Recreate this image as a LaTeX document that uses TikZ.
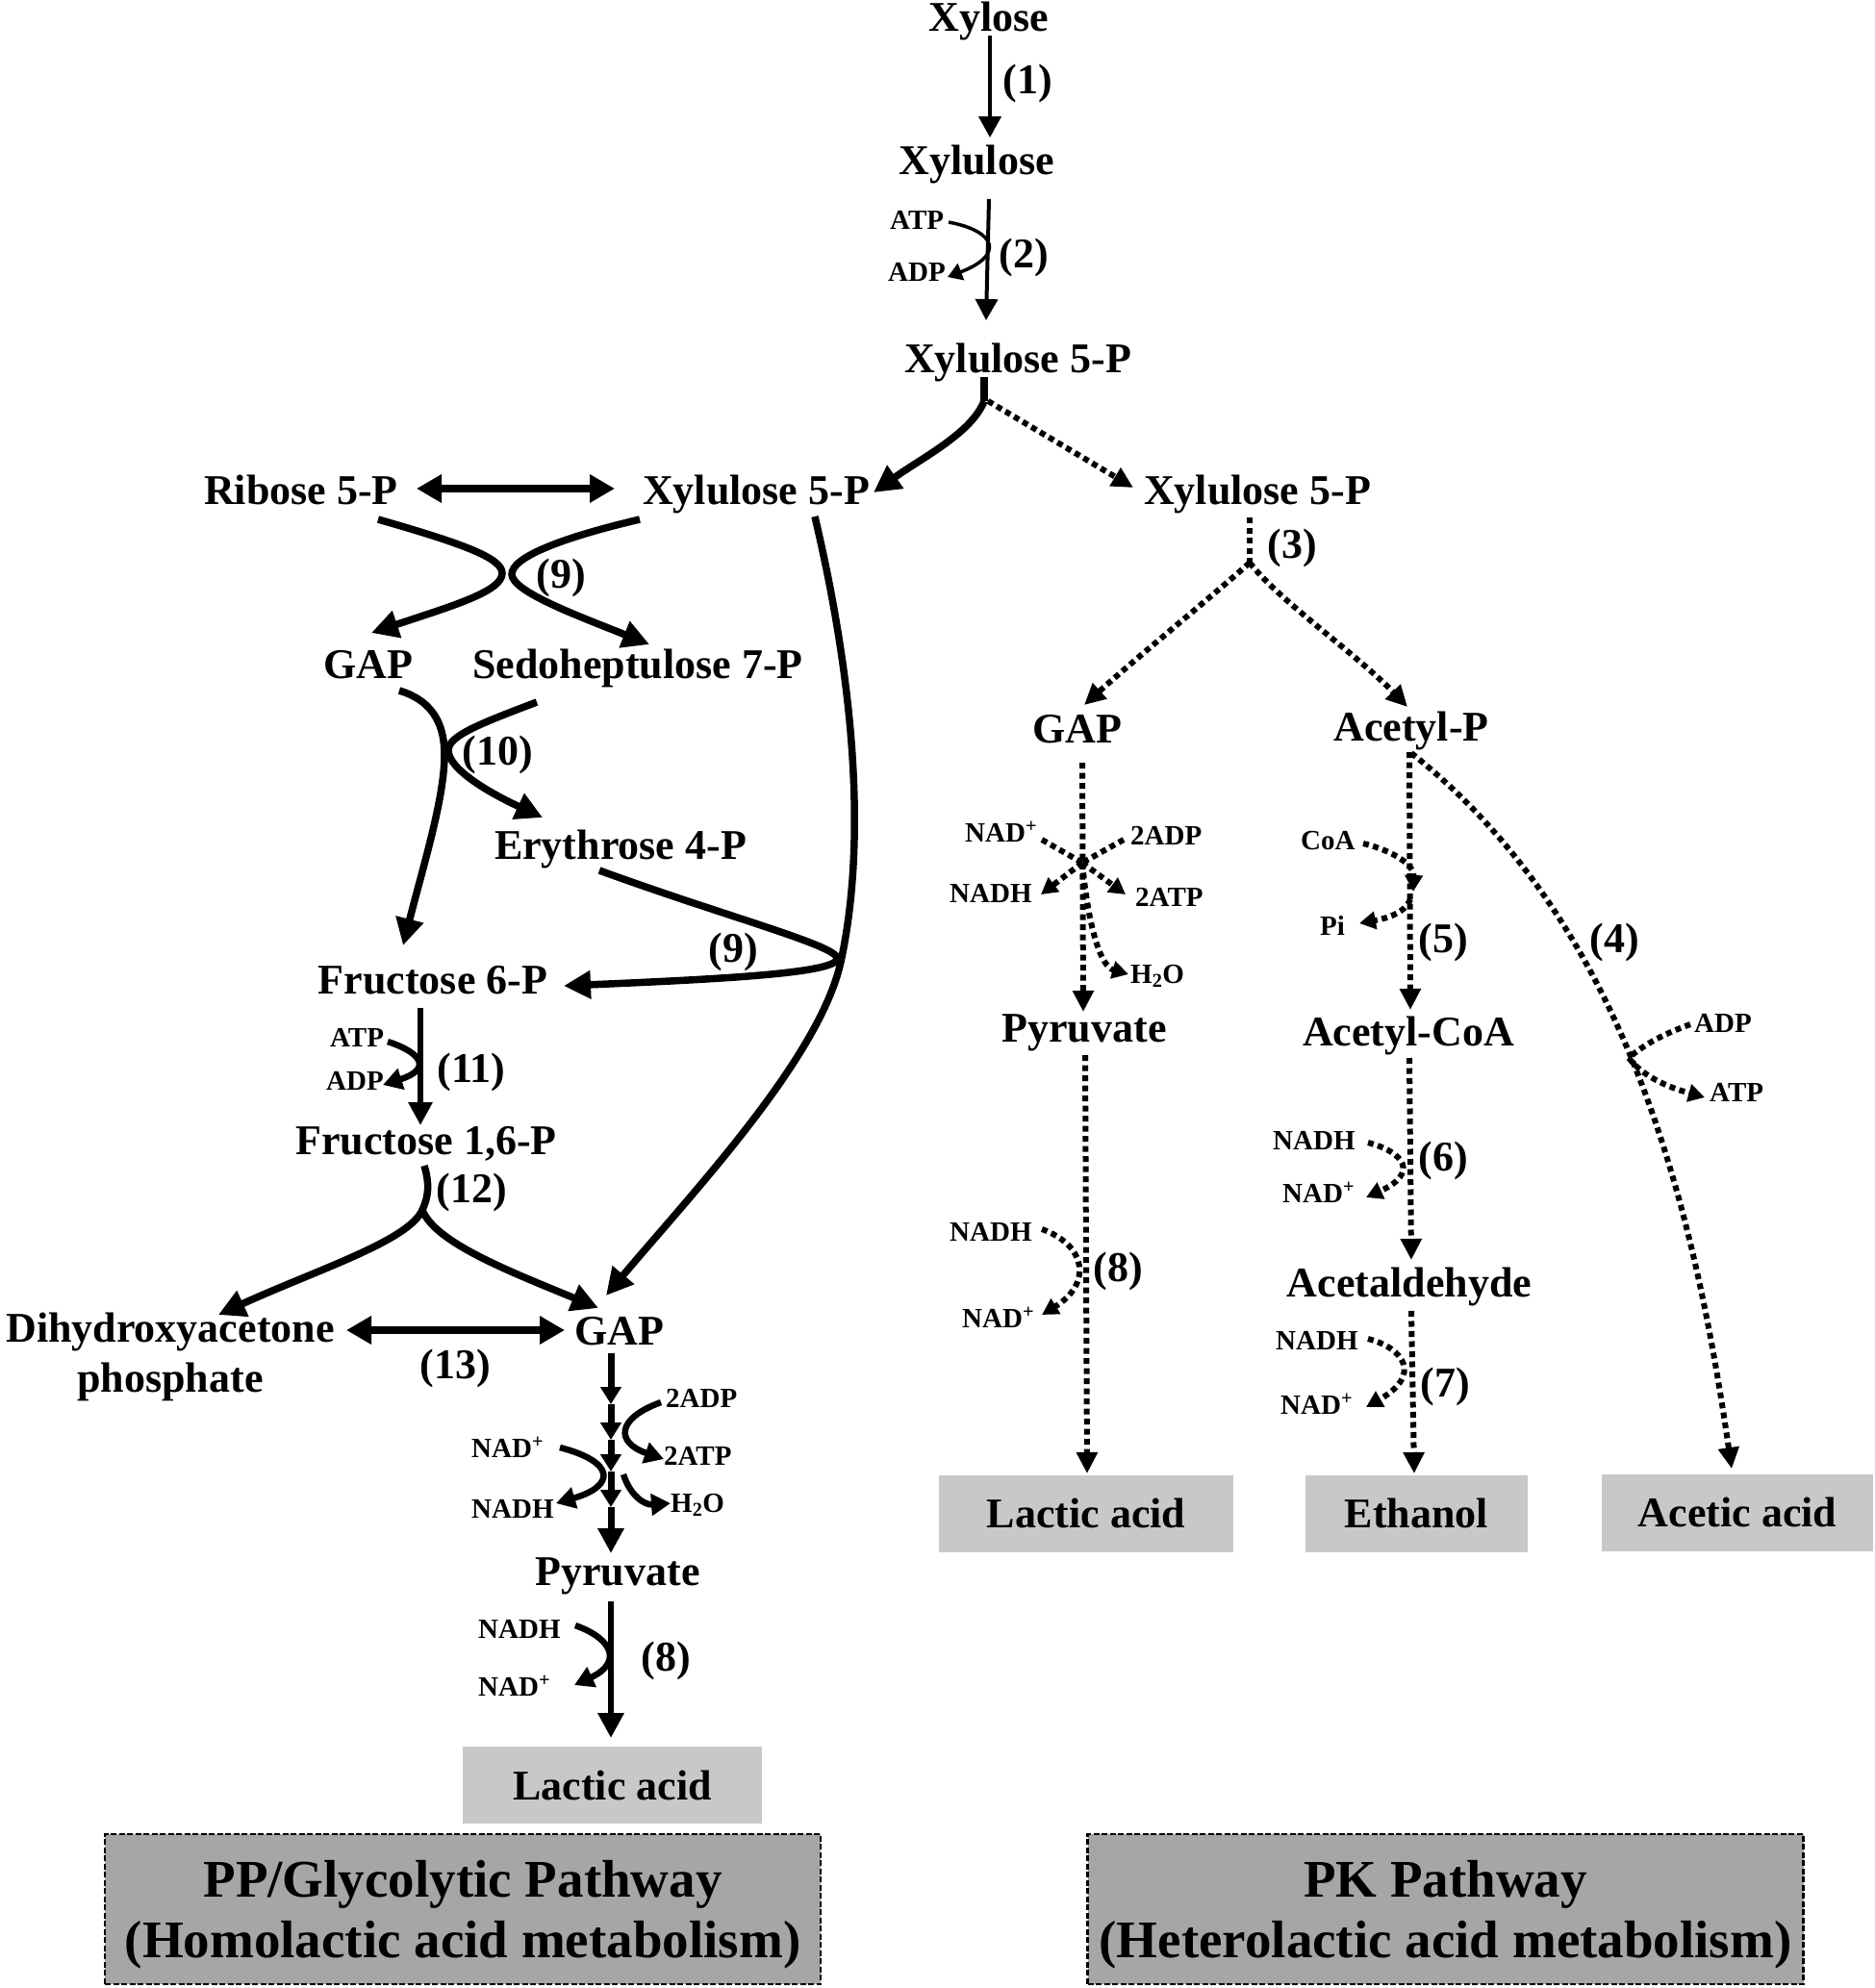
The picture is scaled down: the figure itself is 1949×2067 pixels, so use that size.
\documentclass[tikz,border=0pt]{standalone}
\usepackage{fontspec}
\setmainfont{Liberation Serif}
\usetikzlibrary{arrows.meta}
\definecolor{prodgray}{HTML}{C8C8C8}
\definecolor{ttlgray}{HTML}{A6A6A6}
\begin{document}
\begin{tikzpicture}[x=1pt,y=-1pt,
  big/.style={font=\fontsize{44}{48}\selectfont\bfseries, inner sep=0pt, anchor=base},
  sm/.style={font=\fontsize{29}{32}\selectfont\bfseries, inner sep=0pt, anchor=base west},
  thinarr/.style={line width=4pt, -{Triangle[length=22pt,width=23pt]}},
  cofthin/.style={line width=3.5pt, -{Triangle[length=15pt,width=18pt]}},
  thkline/.style={line width=7.5pt},
  thkarr/.style={line width=7.5pt, -{Triangle[length=28pt,width=28pt]}},
  dblarr/.style={line width=7.5pt, {Triangle[length=26pt,width=28pt]}-{Triangle[length=26pt,width=28pt]}},
  midarr/.style={line width=7pt, -{Triangle[length=18pt,width=21pt]}},
  cofarr/.style={line width=6.5pt, -{Triangle[length=20pt,width=22pt]}},
  dotline/.style={line width=6pt, dash pattern=on 6pt off 4.5pt},
  dotarr/.style={dotline, -{Triangle[length=22pt,width=21pt]}},
  dotsm/.style={dotline, -{Triangle[length=17pt,width=18pt]}},
  prod/.style={font=\fontsize{44}{48}\selectfont\bfseries, fill=prodgray, inner sep=0pt, minimum height=80pt},
  ttlbox/.style={fill=ttlgray, draw=black, line width=2.5pt, dash pattern=on 6pt off 2.5pt,
              inner sep=0pt, minimum width=744pt, minimum height=156pt},
  ttltext/.style={font=\fontsize{55}{63}\selectfont\bfseries, align=center, inner sep=0pt}]
\useasboundingbox (0,0) rectangle (1949,2067);

% ---------------- top column ----------------
\node[big] (xylose) at (1028,32) {Xylose};
\node[big] (xylulose) at (1015,181) {Xylulose};
\node[big] (x5p) at (1058,387) {Xylulose 5-P};
\node[big] (r1) at (1068,97) {(1)};
\node[big] (r2) at (1064,278) {(2)};
\node[sm] (atp2) at (925,238) {ATP};
\node[sm] (adp2) at (923,292) {ADP};
\coordinate (a1s) at (1029,37); \coordinate (a1e) at (1029,143);
\coordinate (a2s) at (1028,207); \coordinate (a2e) at (1025,333);
\draw[thinarr] (a1s) -- (a1e);
\draw[thinarr] (a2s) -- (a2e);
\coordinate (c2s) at (986,231); \coordinate (c2e) at (985,288);
\draw[cofthin] (c2s) .. controls (1035,240) and (1045,265) .. (c2e);

% split below Xylulose 5-P
\coordinate (sp0) at (1023,392); \coordinate (sp1) at (1023,417);
\coordinate (spL) at (908,512); \coordinate (spR) at (1178,507);
\draw[thkline] (sp0) -- (sp1);
\draw[thkarr] (sp1) .. controls (1010,450) and (960,475) .. (spL);
\draw[dotarr] (1027,417) -- (spR);

% ---------------- left: pentose phosphate ----------------
\node[big] (rib) at (313,524) {Ribose 5-P};
\node[big] (xl5p) at (786,524) {Xylulose 5-P};
\coordinate (dbl1) at (433,508); \coordinate (dbl2) at (639,508);
\draw[dblarr] (dbl1) -- (dbl2);

\node[big] (gapL) at (383,705) {GAP};
\node[big] (sedo) at (663,705) {Sedoheptulose 7-P};
\node[big] (r9a) at (583,611) {(9)};
\coordinate (cA1) at (393,540); \coordinate (cA2) at (386,658);
\coordinate (cB1) at (665,540); \coordinate (cB2) at (675,670);
\draw[thkarr] (cA1) .. controls (480,565) and (522,580) .. (522,596)
                    .. controls (522,615) and (470,630) .. (cA2);
\draw[thkarr] (cB1) .. controls (580,560) and (532,580) .. (532,597)
                    .. controls (532,615) and (600,640) .. (cB2);

% (10)
\node[big] (ery) at (645,893) {Erythrose 4-P};
\node[big] (r10) at (517,795) {(10)};
\coordinate (g1) at (415,718); \coordinate (g2) at (419,983);
\coordinate (s1) at (558,730); \coordinate (s2) at (564,850);
\draw[thkarr] (g1) .. controls (455,730) and (462,760) .. (462,785)
                   .. controls (462,830) and (440,900) .. (g2);
\draw[thkarr] (s1) .. controls (500,752) and (466,765) .. (466,780)
                   .. controls (466,800) and (510,825) .. (s2);

% Fructose 6-P and (9)
\node[big] (f6p) at (450,1033) {Fructose 6-P};
\node[big] (r9b) at (762,1000) {(9)};
\coordinate (e1) at (623,905); \coordinate (e2) at (586,1025);
\draw[thkarr] (e1) .. controls (760,955) and (878,985) .. (870,998)
                   .. controls (863,1012) and (750,1018) .. (e2);

% long curve Xylulose 5-P -> GAP
\coordinate (l1) at (847,537); \coordinate (l2) at (630,1347);
\draw[thkarr] (l1) .. controls (890,720) and (900,880) .. (874,1000)
                   .. controls (852,1100) and (720,1240) .. (l2);

% (11)
\node[sm] (atp11) at (343,1088) {ATP};
\node[sm] (adp11) at (339,1133) {ADP};
\node[big] (r11) at (490,1125) {(11)};
\node[big] (f16p) at (443,1200) {Fructose 1,6-P};
\coordinate (f1) at (437,1048); \coordinate (f2) at (437,1170);
\draw[line width=6.5pt, -{Triangle[length=24pt,width=24pt]}] (f1) -- (f2);
\coordinate (c11s) at (403,1083); \coordinate (c11e) at (398,1128);
\draw[cofarr] (c11s) .. controls (440,1095) and (448,1112) .. (c11e);

% (12)
\node[big] (r12) at (490,1250) {(12)};
\node[big] (dhap) at (177,1395) {Dihydroxyacetone};
\node[big] (dhap2) at (177,1447) {phosphate};
\node[big] (gapM) at (644,1398) {GAP};
\coordinate (h0) at (441,1212); \coordinate (h1) at (439,1258);
\coordinate (hL) at (227,1367); \coordinate (hR) at (622,1360);
\draw[thkline] (h0) .. controls (447,1232) and (445,1245) .. (h1);
\draw[thkarr] (h1) .. controls (425,1290) and (330,1320) .. (hL);
\draw[thkarr] (h1) .. controls (452,1292) and (530,1322) .. (hR);

% (13)
\coordinate (d1) at (360,1383); \coordinate (d2) at (587,1383);
\draw[dblarr] (d1) -- (d2);
\node[big] (r13) at (473,1433) {(13)};

% glycolysis chain
\coordinate (k0) at (635,1407); \coordinate (k1) at (635,1460);
\coordinate (k2) at (635,1497); \coordinate (k3) at (635,1530);
\coordinate (k4) at (635,1567); \coordinate (k5) at (635,1615);
\draw[midarr] (k0) -- (k1);
\draw[midarr] (k1) -- (k2);
\draw[midarr] (k2) -- (k3);
\draw[midarr] (k3) -- (k4);
\draw[line width=7pt, -{Triangle[length=26pt,width=26pt]}] (k4) -- (k5);
\node[sm] (adp2L) at (692,1463) {2ADP};
\node[sm] (atp2L) at (690,1523) {2ATP};
\node[sm] (h2oL) at (697,1572) {H\textsubscript{2}O};
\node[sm] (nadL) at (490,1515) {NAD\textsuperscript{+}};
\node[sm] (nadhL) at (490,1578) {NADH};
\coordinate (q1) at (687,1458); \coordinate (q2) at (690,1517);
\draw[cofarr] (q1) .. controls (640,1475) and (640,1500) .. (q2);
\coordinate (q3) at (582,1505); \coordinate (q4) at (578,1563);
\draw[cofarr] (q3) .. controls (640,1520) and (640,1545) .. (q4);
\coordinate (q5) at (648,1533); \coordinate (q6) at (697,1563);
\draw[cofarr] (q5) .. controls (655,1555) and (670,1565) .. (q6);

\node[big] (pyrL) at (642,1648) {Pyruvate};
\coordinate (p1) at (635,1665); \coordinate (p2) at (635,1807);
\draw[line width=6.5pt, -{Triangle[length=26pt,width=26pt]}] (p1) -- (p2);
\node[sm] (nadh8L) at (497,1703) {NADH};
\node[sm] (nad8L) at (497,1763) {NAD\textsuperscript{+}};
\node[big] (r8L) at (692,1737) {(8)};
\coordinate (m1) at (598,1690); \coordinate (m2) at (597,1752);
\draw[cofarr] (m1) .. controls (640,1705) and (645,1730) .. (m2);
\node[prod, minimum width=311pt] (lacL) at (636.5,1856) {Lactic acid};

% ---------------- right: PK pathway ----------------
\node[big] (xr5p) at (1307,524) {Xylulose 5-P};
\node[big] (r3) at (1343,580) {(3)};
\coordinate (t0) at (1299,538); \coordinate (t1) at (1299,585);
\coordinate (tL) at (1127,733); \coordinate (tR) at (1463,735);
\draw[dotline] (t0) -- (t1);
\draw[dotarr] (t1) .. controls (1260,620) and (1180,685) .. (tL);
\draw[dotarr] (t1) .. controls (1330,625) and (1410,680) .. (tR);

\node[big] (gapR) at (1120,772) {GAP};
\node[big] (acp) at (1467,770) {Acetyl-P};

% GAP -> Pyruvate (right)
\coordinate (u0) at (1125,793); \coordinate (hub) at (1125,897); \coordinate (u1) at (1126,1052);
\draw[dotarr] (u0) -- (u1);
\node[sm] (nadR) at (1003,875) {NAD\textsuperscript{+}};
\node[sm] (adp2R) at (1175,878) {2ADP};
\node[sm] (nadhR) at (987,938) {NADH};
\node[sm] (atp2R) at (1180,942) {2ATP};
\node[sm] (h2oR) at (1175,1022) {H\textsubscript{2}O};
\coordinate (v1) at (1083,873); \coordinate (v2) at (1168,873);
\coordinate (v3) at (1082,930); \coordinate (v4) at (1170,930);
\coordinate (v5) at (1173,1013);
\draw[dotline] (v1) -- (hub);
\draw[dotline] (v2) -- (hub);
\draw[dotsm] (hub) -- (v3);
\draw[dotsm] (hub) -- (v4);
\draw[dotsm] (hub) .. controls (1132,970) and (1145,1005) .. (v5);

\node[big] (pyrR) at (1127,1083) {Pyruvate};
\coordinate (w0) at (1128,1097); \coordinate (w1) at (1130,1532);
\draw[dotarr] (w0) -- (w1);
\node[sm] (nadh8R) at (987,1290) {NADH};
\node[sm] (nad8R) at (1000,1380) {NAD\textsuperscript{+}};
\node[big] (r8R) at (1162,1332) {(8)};
\coordinate (w2) at (1083,1278); \coordinate (w3) at (1083,1367);
\draw[dotsm] (w2) .. controls (1130,1295) and (1135,1335) .. (w3);
\node[prod, minimum width=306pt] (lacR) at (1129,1573.5) {Lactic acid};

% Acetyl-P -> Acetyl-CoA
\coordinate (y0) at (1465,782); \coordinate (y1) at (1466,1050);
\draw[dotarr] (y0) -- (y1);
\node[sm] (coa) at (1352,883) {CoA};
\node[sm] (pi) at (1372,972) {Pi};
\coordinate (y2) at (1417,877); \coordinate (y3) at (1469,927);
\draw[dotsm] (y2) .. controls (1450,885) and (1470,900) .. (y3);
\coordinate (y4) at (1466,935); \coordinate (y5) at (1413,960);
\draw[dotsm] (y4) .. controls (1460,950) and (1440,955) .. (y5);
\node[big] (r5) at (1500,990) {(5)};
\node[big] (acoa) at (1464,1087) {Acetyl-CoA};

% Acetyl-CoA -> Acetaldehyde
\coordinate (z0) at (1465,1100); \coordinate (z1) at (1467,1310);
\draw[dotarr] (z0) -- (z1);
\node[sm] (nadh6) at (1323,1195) {NADH};
\node[sm] (nad6) at (1333,1250) {NAD\textsuperscript{+}};
\node[big] (r6) at (1500,1217) {(6)};
\coordinate (z2) at (1422,1188); \coordinate (z3) at (1420,1245);
\draw[dotsm] (z2) .. controls (1460,1198) and (1475,1220) .. (z3);
\node[big] (acald) at (1465,1348) {Acetaldehyde};

% Acetaldehyde -> Ethanol
\coordinate (e0) at (1467,1363); \coordinate (e9) at (1470,1532);
\draw[dotarr] (e0) -- (e9);
\node[sm] (nadh7) at (1326,1403) {NADH};
\node[sm] (nad7) at (1331,1470) {NAD\textsuperscript{+}};
\node[big] (r7) at (1502,1452) {(7)};
\coordinate (e3) at (1422,1392); \coordinate (e4) at (1420,1463);
\draw[dotsm] (e3) .. controls (1460,1402) and (1478,1430) .. (e4);
\node[prod, minimum width=231pt] (eth) at (1472.5,1573.5) {Ethanol};

% Acetyl-P -> Acetic acid (4)
\coordinate (o0) at (1467,783); \coordinate (o1) at (1800,1527);
\draw[dotarr] (o0) .. controls (1690,960) and (1760,1250) .. (o1);
\node[big] (r4) at (1678,990) {(4)};
\node[sm] (adp4) at (1761,1073) {ADP};
\node[sm] (atp4) at (1777,1145) {ATP};
\coordinate (j4) at (1693,1100);
\coordinate (o2) at (1757,1065); \coordinate (o3) at (1772,1141);
\draw[dotline] (o2) .. controls (1730,1075) and (1710,1085) .. (j4);
\draw[dotsm] (j4) .. controls (1710,1122) and (1740,1132) .. (o3);
\node[prod, minimum width=282pt] (acet) at (1806,1572.5) {Acetic acid};

% ---------------- titles ----------------
\node[ttlbox] (ttlL) at (481,1985) {};
\node[ttltext] (ttlLt) at (481,1991) {PP/Glycolytic Pathway\\(Homolactic acid metabolism)};
\node[ttlbox] (ttlR) at (1502.5,1985) {};
\node[ttltext] (ttlRt) at (1502.5,1991) {PK Pathway\\(Heterolactic acid metabolism)};
\end{tikzpicture}
\end{document}
